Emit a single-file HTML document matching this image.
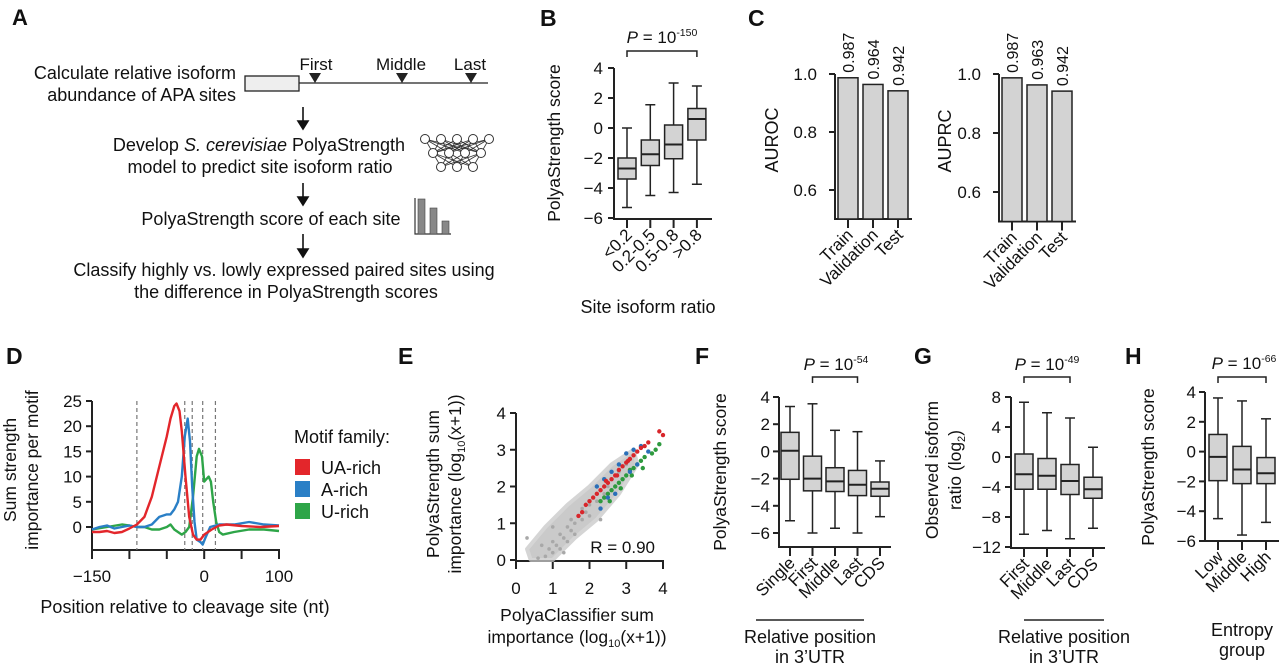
<!DOCTYPE html>
<html><head><meta charset="utf-8"><style>
html,body{margin:0;padding:0;background:#fff;}
svg{display:block;font-family:"Liberation Sans",Arial,sans-serif;}
text{fill:#111;}
</style></head><body>
<svg id="fig" width="1280" height="670" viewBox="0 0 1280 670" xmlns="http://www.w3.org/2000/svg">
<g font-size="18">
  <text x="12" y="25" font-size="22" font-weight="bold">A</text>
  <text x="236" y="79" text-anchor="end">Calculate relative isoform</text>
  <text x="236" y="101" text-anchor="end">abundance of APA sites</text>
  <rect x="245" y="76" width="54" height="15" fill="#eee" stroke="#222" stroke-width="1.3"/>
  <line x1="299" y1="83" x2="488" y2="83" stroke="#222" stroke-width="1.3"/>
  <polygon points="309,73 321,73 315,83" fill="#222"/>
  <polygon points="396,73 408,73 402,83" fill="#222"/>
  <polygon points="465,73 477,73 471,83" fill="#222"/>
  <text x="316" y="70" text-anchor="middle" font-size="17">First</text>
  <text x="401" y="70" text-anchor="middle" font-size="17">Middle</text>
  <text x="470" y="70" text-anchor="middle" font-size="17">Last</text>
  <g stroke="#111" stroke-width="1.6" fill="#111">
    <line x1="303" y1="107" x2="303" y2="122"/><polygon points="298,121 308,121 303,129"/>
    <line x1="303" y1="183" x2="303" y2="198"/><polygon points="298,197 308,197 303,205"/>
    <line x1="303" y1="234" x2="303" y2="250"/><polygon points="298,249 308,249 303,257"/>
  </g>
  <text x="259" y="151" text-anchor="middle">Develop <tspan font-style="italic">S. cerevisiae</tspan> PolyaStrength</text>
  <text x="260" y="173" text-anchor="middle">model to predict site isoform ratio</text>
  <g id="nn"></g>
  <text x="271" y="225" text-anchor="middle">PolyaStrength score of each site</text>
  <g>
    <polyline points="415,198 415,234 451,234" fill="none" stroke="#333" stroke-width="1.2"/>
    <rect x="418" y="199" width="7" height="35" fill="#888" stroke="#444" stroke-width="0.6"/>
    <rect x="430" y="208" width="7" height="26" fill="#888" stroke="#444" stroke-width="0.6"/>
    <rect x="442" y="221" width="7" height="13" fill="#888" stroke="#444" stroke-width="0.6"/>
  </g>
  <text x="284" y="276" text-anchor="middle">Classify highly vs. lowly expressed paired sites using</text>
  <text x="286" y="298" text-anchor="middle">the difference in PolyaStrength scores</text>
</g>
<g id="plots"></g>
</svg>
<script>
// ---------- DATA ----------
const bCats = ['<0.2','0.2-0.5','0.5-0.8','>0.8'];
const bWhiskHi = [0, 1.55, 3.0, 2.8];
const bQ3 = [-2.0, -0.8, 0.2, 1.3];
const bMed = [-2.7, -1.75, -1.1, 0.6];
const bQ1 = [-3.4, -2.5, -2.05, -0.8];
const bWhiskLo = [-5.3, -4.5, -4.3, -3.75];
const bTicks = [4, 2, 0, -2, -4, -6];
const cCats = ['Train','Validation','Test'];
const cAuroc = [0.987, 0.964, 0.942];
const cAuprc = [0.987, 0.963, 0.942];
const cTicks = [1.0, 0.8, 0.6];
const cTickLabels = ['1.0','0.8','0.6'];
const dPosRed = [-150,-140,-130,-120,-110,-100,-90,-80,-70,-60,-50,-45,-40,-37,-33,-30,-25,-20,-15,-10,-5,0,10,20,30,50,75,100];
const dValRed = [-1,-1,-0.8,-1.2,-1,-0.3,0.5,2,6,12,18,21.5,24,24.5,23,19,10,2,-1.5,-2.5,-2.5,-1.5,-0.5,0.3,0.5,0.2,0,0.2];
const dPosBlue = [-150,-140,-130,-120,-110,-100,-90,-80,-70,-60,-50,-45,-40,-35,-30,-26,-22,-19,-16,-13,-10,-5,-2,2,8,20,40,60,80,100];
const dValBlue = [-0.5,0,0.3,-0.3,0,0.3,0,0,0.5,2,2.5,2.5,3.5,5,10,18,21.5,17,8,1,-2.5,-3,-3.5,-2,0,0.5,0.5,1,0.5,0.3];
const dPosGreen = [-150,-130,-110,-100,-90,-80,-70,-60,-50,-45,-40,-30,-25,-20,-15,-10,-7,-3,0,3,6,9,12,16,20,25,40,60,80,100];
const dValGreen = [-0.5,0,0.5,0.3,0,0,-0.5,-0.5,0,0.5,-0.5,-1.5,-1,0,6,14,15.5,14,9,9.5,10,9,5,1,-1,-1.5,-1,-0.5,-0.5,-0.8];
const dDashed = [-90,-26,-16,-2,15];
const dYTicks = [25,20,15,10,5,0];
const dXTicks = [-150,-100,-50,0,50,100];
const dXLabels = ['\u2212150','','','0','','100'];
const eGrayX = [0.6,0.8,0.9,1.0,1.0,1.1,1.2,1.2,1.3,1.4,1.4,1.5,1.5,1.6,1.6,1.7,1.8,1.8,1.9,2.0,2.0,2.1,2.2,2.3,2.4,2.5,2.6,2.8,3.0,0.3,2.3,1.0,0.7,1.3];
const eGrayY = [0.05,0.1,0.3,0.2,0.5,0.4,0.7,0.3,0.6,0.9,0.5,0.8,1.1,1.0,0.7,1.2,1.1,1.4,1.3,1.5,1.2,1.7,1.6,1.9,1.8,2.0,2.2,2.4,2.6,0.6,1.1,0.9,0.4,0.2];
const eRedX = [1.7,1.8,1.9,2.0,2.1,2.2,2.3,2.4,2.5,2.6,2.7,2.8,2.9,3.0,3.1,3.2,3.3,3.4,3.5,3.6,3.9,4.0,2.45,2.75,3.05];
const eRedY = [1.2,1.3,1.5,1.6,1.7,1.8,1.9,2.0,2.1,2.2,2.3,2.45,2.55,2.65,2.75,2.85,2.95,3.05,3.1,3.2,3.5,3.4,2.15,2.3,2.7];
const eBlueX = [2.2,2.4,2.5,2.6,2.8,3.0,3.2,3.3,3.4,2.3,2.7,3.1,3.6];
const eBlueY = [2.0,2.2,1.7,2.4,2.6,2.9,3.0,2.6,3.1,1.4,1.8,2.4,2.95];
const eGreenX = [2.3,2.4,2.5,2.6,2.7,2.8,2.9,3.0,3.1,3.2,3.3,3.4,3.5,3.7,3.8,2.55,2.85,3.15,3.45,3.9];
const eGreenY = [1.6,1.7,1.8,1.9,2.0,2.1,2.2,2.3,2.45,2.5,2.6,2.7,2.8,2.9,3.0,1.6,1.95,2.3,2.5,3.15];
const eCloudX = [0.4,1.0,1.6,2.2,2.8,3.3,3.2,2.6,2.0,1.4,0.8,0.3];
const eCloudY = [0,0,0.6,1.1,1.8,2.6,3.0,2.6,2.0,1.5,0.9,0.3];
const eTicks = [0,1,2,3,4];
const fCats = ['Single','First','Middle','Last','CDS'];
const fWhiskHi = [3.3, 3.5, 1.55, 1.45, -0.7];
const fQ3 = [1.4, -0.35, -1.2, -1.4, -2.25];
const fMed = [0.05, -2.0, -2.2, -2.45, -2.75];
const fQ1 = [-2.05, -2.9, -2.95, -3.25, -3.3];
const fWhiskLo = [-5.1, -6.0, -5.65, -6.0, -4.8];
const gCats = ['First','Middle','Last','CDS'];
const gWhiskHi = [7.3, 5.9, 5.2, 1.3];
const gQ3 = [0.4, -0.2, -1.0, -2.7];
const gMed = [-2.3, -2.5, -3.2, -4.3];
const gQ1 = [-4.3, -4.3, -5.0, -5.5];
const gWhiskLo = [-10.3, -9.8, -10.9, -9.5];
const gTicks = [8, 4, 0, -4, -8, -12];
const hCats = ['Low','Middle','High'];
const hWhiskHi = [3.6, 3.4, 2.2];
const hQ3 = [1.15, 0.35, -0.4];
const hMed = [-0.35, -1.2, -1.45];
const hQ1 = [-1.95, -2.15, -2.15];
const hWhiskLo = [-4.5, -5.6, -4.75];

// ---------- HELPERS ----------
const NS = 'http://www.w3.org/2000/svg';
const root = document.getElementById('plots');
const TF = 17;   // tick font
const AF = 17.5; // axis title font
function el(tag, attrs, parent, txt) {
  const e = document.createElementNS(NS, tag);
  for (const k in attrs) e.setAttribute(k, attrs[k]);
  if (txt !== undefined) e.textContent = txt;
  (parent || root).appendChild(e);
  return e;
}
function scale(d0, d1, r0, r1) { return v => r0 + (v - d0) / (d1 - d0) * (r1 - r0); }
function group(name) {
  const g = el('g', {});
  
  
  return g;
}
const STK = '#222';

function yAxis(g, x, y, ticks, labels, yTop, yBot, lblX) {
  const a = el('line', {x1: x, y1: yTop, x2: x, y2: yBot, stroke: STK, 'stroke-width': 2}, g);
  
  
  ticks.forEach((t, i) => {
    const yy = y(t);
    el('line', {x1: x - 6, y1: yy, x2: x, y2: yy, stroke: STK, 'stroke-width': 2}, g);
    const tl = el('text', {x: lblX, y: yy + 6, 'text-anchor': 'end', 'font-size': TF}, g, labels ? labels[i] : String(t).replace('-', '\u2212'));
    
    
  });
}
function rotLabel(g, x, y, txt, name, size) {
  const t = el('text', {x: x, y: y, 'text-anchor': 'middle', 'font-size': size || AF, transform: `rotate(-90 ${x} ${y})`}, g, txt);
  
  
  return t;
}
function pLabel(g, cx, y, exp) {
  const t = el('text', {x: cx, y: y, 'text-anchor': 'middle', 'font-size': 17}, g);
  
  
  el('tspan', {'font-style': 'italic'}, t, 'P');
  el('tspan', {}, t, ' = 10');
  el('tspan', {'font-size': 10.5, dy: -7}, t, exp);
}
function bracket(g, x1, x2, y) {
  const b = el('polyline', {points: `${x1},${y + 6} ${x1},${y} ${x2},${y} ${x2},${y + 6}`, fill: 'none', stroke: STK, 'stroke-width': 1.5}, g);
  
  
}
function boxplot(g, cats, hi, q3, med, q1, lo, xPos, y, axisY, w) {
  cats.forEach((c, i) => {
    const cx = xPos(i);
    const bg = el('g', {}, g);
    
    
    el('line', {x1: cx, y1: y(hi[i]), x2: cx, y2: y(q3[i]), stroke: STK, 'stroke-width': 1.5}, bg);
    el('line', {x1: cx, y1: y(q1[i]), x2: cx, y2: y(lo[i]), stroke: STK, 'stroke-width': 1.5}, bg);
    el('line', {x1: cx - 5, y1: y(hi[i]), x2: cx + 5, y2: y(hi[i]), stroke: STK, 'stroke-width': 1.5}, bg);
    el('line', {x1: cx - 5, y1: y(lo[i]), x2: cx + 5, y2: y(lo[i]), stroke: STK, 'stroke-width': 1.5}, bg);
    el('rect', {x: cx - w / 2, y: y(q3[i]), width: w, height: y(q1[i]) - y(q3[i]), fill: '#d3d3d3', stroke: STK, 'stroke-width': 1.5}, bg);
    el('line', {x1: cx - w / 2, y1: y(med[i]), x2: cx + w / 2, y2: y(med[i]), stroke: STK, 'stroke-width': 2}, bg);
    el('line', {x1: cx, y1: axisY, x2: cx, y2: axisY + 9, stroke: STK, 'stroke-width': 2}, g);
    const tl = el('text', {x: cx + 6, y: axisY + 17, 'text-anchor': 'end', 'font-size': TF, transform: `rotate(-45 ${cx + 6} ${axisY + 17})`}, g, c);
    
    
  });
}
function panelLabel(x, y, t) {
  const p = el('text', {x: x, y: y, 'font-size': 23, 'font-weight': 'bold'}, root, t);
  
  
}

// ---------- NN ICON ----------
(function () {
  const g = document.getElementById('nn');
  const rows = [[425, 441, 457, 473, 489], [433, 449, 465, 481], [441, 457, 473]];
  const ys = [139, 153, 167];
  for (let r = 0; r < 2; r++) rows[r].forEach(a => rows[r + 1].forEach(b => el('line', {x1: a, y1: ys[r], x2: b, y2: ys[r + 1], stroke: '#333', 'stroke-width': 0.8}, g)));
  rows.forEach((row, r) => row.forEach(x => el('circle', {cx: x, cy: ys[r], r: 4.5, fill: '#fff', stroke: '#333', 'stroke-width': 1}, g)));
})();

// ---------- PANEL B ----------
(function () {
  panelLabel(540, 26, 'B');
  const g = group('panel-b');
  const y = scale(4, -6, 68, 218);
  const xPos = i => 627 + i * 23.3;
  yAxis(g, 614, y, bTicks, null, 68, 219, 603);
  const ax = el('line', {x1: 613, y1: 219, x2: 712, y2: 219, stroke: STK, 'stroke-width': 2}, g);
  
  
  boxplot(g, bCats, bWhiskHi, bQ3, bMed, bQ1, bWhiskLo, xPos, y, 219, 18);
  rotLabel(g, 560, 143, 'PolyaStrength score', 'y-axis-title');
  bracket(g, xPos(0), xPos(3), 51);
  pLabel(g, 662, 43, '-150');
  const t = el('text', {x: 648, y: 313, 'text-anchor': 'middle', 'font-size': 18}, g, 'Site isoform ratio');
  
  
})();

// ---------- PANEL C ----------
function barChart(name, axisX, y1px, y6px, vals, title, titleX) {
  const g = group(name);
  const y = scale(1.0, 0.6, y1px, y6px);
  const base = y(0.5);
  yAxis(g, axisX, y, cTicks, cTickLabels, y(1.0), base, axisX - 18);
  const ax = el('line', {x1: axisX - 1, y1: base, x2: axisX + 77, y2: base, stroke: STK, 'stroke-width': 2}, g);
  
  
  vals.forEach((v, i) => {
    const cx = axisX + 13 + i * 25;
    const b = el('rect', {x: cx - 10, y: y(v), width: 20, height: base - y(v), fill: '#d3d3d3', stroke: STK, 'stroke-width': 1.5}, g);
    
    
    el('line', {x1: cx, y1: base, x2: cx, y2: base + 9, stroke: STK, 'stroke-width': 2}, g);
    const vx = cx + 6, vy = y(v) - 5;
    const vl = el('text', {x: vx, y: vy, 'font-size': 16, transform: `rotate(-90 ${vx} ${vy})`}, g, v.toFixed(3));
    
    
    const tx = cx + 6, ty = base + 17;
    const tl = el('text', {x: tx, y: ty, 'text-anchor': 'end', 'font-size': TF, transform: `rotate(-45 ${tx} ${ty})`}, g, cCats[i]);
    
    
  });
  rotLabel(g, titleX, y(0.8) + 8, title, 'y-axis-title', 18);
}
panelLabel(748, 26, 'C');
barChart('panel-c-auroc', 835, 74, 190, cAuroc, 'AUROC', 778);
barChart('panel-c-auprc', 999, 74, 192, cAuprc, 'AUPRC', 951);

// ---------- PANEL D ----------
(function () {
  panelLabel(6, 364, 'D');
  const g = group('panel-d');
  const x = scale(-150, 100, 92, 279);
  const y = scale(0, 25, 527, 401);
  const base = 550;
  yAxis(g, 92, y, dYTicks, null, 401, base, 82);
  const ax = el('line', {x1: 91, y1: base, x2: 280, y2: base, stroke: STK, 'stroke-width': 2}, g);
  
  
  dXTicks.forEach((t, i) => {
    el('line', {x1: x(t), y1: base, x2: x(t), y2: base + 9, stroke: STK, 'stroke-width': 2}, g);
    if (dXLabels[i]) {
      const tl = el('text', {x: x(t), y: base + 32, 'text-anchor': 'middle', 'font-size': TF}, g, dXLabels[i]);
      
      
    }
  });
  dDashed.forEach(p => {
    const d = el('line', {x1: x(p), y1: 401, x2: x(p), y2: base, stroke: '#777', 'stroke-width': 1.2, 'stroke-dasharray': '4,3'}, g);
    
    
  });
  function curve(ps, vs, color, name) {
    const pts = ps.map((p, i) => `${x(p).toFixed(1)},${y(vs[i]).toFixed(1)}`).join(' ');
    const c = el('polyline', {points: pts, fill: 'none', stroke: color, 'stroke-width': 2.4, 'stroke-linejoin': 'round'}, g);
    
    
  }
  curve(dPosGreen, dValGreen, '#2ea548', 'line-u-rich');
  curve(dPosBlue, dValBlue, '#2a7fc6', 'line-a-rich');
  curve(dPosRed, dValRed, '#e3262b', 'line-ua-rich');
  rotLabel(g, 16, 470, 'Sum strength', 'y-axis-title-line1');
  rotLabel(g, 38, 470, 'importance per motif', 'y-axis-title-line2');
  const xt = el('text', {x: 185, y: 613, 'text-anchor': 'middle', 'font-size': 18}, g, 'Position relative to cleavage site (nt)');
  
  
  const lg = el('g', {}, g);
  
  
  el('text', {x: 294, y: 443, 'font-size': 18}, lg, 'Motif family:');
  [['UA-rich', '#e3262b'], ['A-rich', '#2a7fc6'], ['U-rich', '#2ea548']].forEach((e, i) => {
    const eg = el('g', {}, lg);
    
    
    el('rect', {x: 295, y: 459 + i * 22, width: 15, height: 16, fill: e[1]}, eg);
    el('text', {x: 321, y: 474 + i * 22, 'font-size': 18}, eg, e[0]);
  });
})();

// ---------- PANEL E ----------
(function () {
  panelLabel(398, 364, 'E');
  const g = group('panel-e');
  const x = scale(0, 4, 516, 663);
  const y = scale(0, 4, 560, 413);
  yAxis(g, 516, y, eTicks, null, 413, 561, 506);
  const ax = el('line', {x1: 515, y1: 561, x2: 664, y2: 561, stroke: STK, 'stroke-width': 2}, g);
  
  
  eTicks.forEach(t => {
    el('line', {x1: x(t), y1: 561, x2: x(t), y2: 569, stroke: STK, 'stroke-width': 2}, g);
    const tl = el('text', {x: x(t), y: 594, 'text-anchor': 'middle', 'font-size': TF}, g, String(t));
    
    
  });
  const cl = el('polygon', {points: eCloudX.map((v, i) => `${x(v)},${y(eCloudY[i])}`).join(' '), fill: '#b9b9b9', opacity: 0.75, stroke: '#c8c8c8', 'stroke-width': 4, 'stroke-linejoin': 'round'}, g);
  
  
  function pts(xs, ys, color, name, r) {
    const pg = el('g', {}, g);
    
    
    xs.forEach((v, i) => el('circle', {cx: x(v), cy: y(ys[i]), r: r, fill: color}, pg));
  }
  pts(eGrayX, eGrayY, '#a8a8a8', 'points-other', 1.8);
  pts(eGreenX, eGreenY, '#2e9a3e', 'points-u-rich', 2.2);
  pts(eBlueX, eBlueY, '#2a6fb8', 'points-a-rich', 2.2);
  pts(eRedX, eRedY, '#d8262b', 'points-ua-rich', 2.2);
  const r = el('text', {x: 655, y: 553, 'text-anchor': 'end', 'font-size': 17}, g, 'R = 0.90');
  
  
  function sub(a, s, b, name, xx, yy, rot) {
    const te = el('text', {x: xx, y: yy, 'text-anchor': 'middle', 'font-size': AF}, g);
    if (rot) te.setAttribute('transform', `rotate(-90 ${xx} ${yy})`);
    
    
    el('tspan', {}, te, a);
    el('tspan', {'font-size': 11, dy: 4}, te, s);
    el('tspan', {dy: -4}, te, b);
  }
  rotLabel(g, 439, 484, 'PolyaStrength sum', 'y-axis-title-line1');
  sub('importance (log', '10', '(x+1))', 'y-axis-title-line2', 461, 484, true);
  const xt = el('text', {x: 577, y: 621, 'text-anchor': 'middle', 'font-size': AF}, g, 'PolyaClassifier sum');
  
  
  sub('importance (log', '10', '(x+1))', 'x-axis-title-line2', 577, 643, false);
})();

// ---------- PANEL F / G / H ----------
function posFooter(g, x1, x2, cx, l1, l2, y1, y2, line) {
  if (line) {
    const l = el('line', {x1: x1, y1: 620, x2: x2, y2: 620, stroke: STK, 'stroke-width': 1.5}, g);
    
    
  }
  [l1, l2].forEach((t, i) => {
    const te = el('text', {x: cx, y: i ? y2 : y1, 'text-anchor': 'middle', 'font-size': 18}, g, t);
    
    
  });
}
(function () {
  panelLabel(695, 364, 'F');
  const g = group('panel-f');
  const y = scale(4, -6, 397, 533);
  const xPos = i => 790 + i * 22.5;
  yAxis(g, 779, y, bTicks, null, 397, 547, 770);
  const ax = el('line', {x1: 778, y1: 547, x2: 891, y2: 547, stroke: STK, 'stroke-width': 2}, g);
  
  
  boxplot(g, fCats, fWhiskHi, fQ3, fMed, fQ1, fWhiskLo, xPos, y, 547, 18);
  rotLabel(g, 726, 472, 'PolyaStrength score', 'y-axis-title');
  bracket(g, xPos(1), xPos(3), 377);
  pLabel(g, 836, 370, '-54');
  posFooter(g, 756, 864, 810, 'Relative position', 'in 3\u2019UTR', 643, 663, true);
})();
(function () {
  panelLabel(914, 364, 'G');
  const g = group('panel-g');
  const y = scale(8, -12, 397, 547);
  const xPos = i => 1024 + i * 23;
  yAxis(g, 1011, y, gTicks, null, 397, 548, 1001);
  const ax = el('line', {x1: 1010, y1: 548, x2: 1105, y2: 548, stroke: STK, 'stroke-width': 2}, g);
  
  
  boxplot(g, gCats, gWhiskHi, gQ3, gMed, gQ1, gWhiskLo, xPos, y, 548, 18);
  rotLabel(g, 938, 470, 'Observed isoform', 'y-axis-title-line1');
  const te = el('text', {x: 961, y: 470, 'text-anchor': 'middle', 'font-size': AF, transform: 'rotate(-90 961 470)'}, g);
  
  
  el('tspan', {}, te, 'ratio (log');
  el('tspan', {'font-size': 11, dy: 4}, te, '2');
  el('tspan', {dy: -4}, te, ')');
  bracket(g, xPos(0), xPos(2), 377);
  pLabel(g, 1047, 370, '-49');
  posFooter(g, 1024, 1104, 1064, 'Relative position', 'in 3\u2019UTR', 643, 663, true);
})();
(function () {
  panelLabel(1125, 364, 'H');
  const g = group('panel-h');
  const y = scale(4, -6, 392, 541);
  const xPos = i => 1218 + i * 24;
  yAxis(g, 1205, y, bTicks, null, 392, 541, 1196);
  const ax = el('line', {x1: 1204, y1: 541, x2: 1279, y2: 541, stroke: STK, 'stroke-width': 2}, g);
  
  
  boxplot(g, hCats, hWhiskHi, hQ3, hMed, hQ1, hWhiskLo, xPos, y, 541, 18);
  rotLabel(g, 1154, 467, 'PolyaStrength score', 'y-axis-title');
  bracket(g, xPos(0), xPos(2), 377);
  pLabel(g, 1244, 369, '-66');
  posFooter(g, 0, 0, 1242, 'Entropy', 'group', 636, 656, false);
})();
</script>
</body></html>
